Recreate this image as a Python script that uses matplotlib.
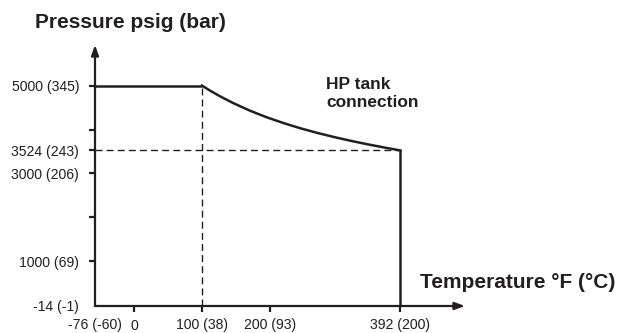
import matplotlib
matplotlib.use("Agg")
import matplotlib.pyplot as plt

plt.rcParams['font.family'] = ['Liberation Sans', 'DejaVu Sans']

# ---- data ----
x_tick_values = [0, 100, 200, 392]
x_tick_labels = ["0", "100 (38)", "200 (93)", "392 (200)"]
x_origin_label = "-76 (-60)"
y_tick_values = [-14, 1000, 2000, 3000, 3524, 4000, 5000]
y_tick_labels = ["-14 (-1)", "1000 (69)", "", "3000 (206)", "3524 (243)", "", "5000 (345)"]

knee_temp = 100
plateau_psig = 5000
curve_temp = [100, 110, 125, 145, 170, 195, 220, 245, 270, 295, 320, 345, 370, 392]
curve_psig = [5000, 4903, 4769, 4609, 4433, 4280, 4147, 4028, 3922, 3827, 3740, 3660, 3586, 3524]
max_temp = 392
rated_psig = 3524

x_min, x_max = -57.4, 487
y_min, y_max = -14, 5923

col = '#231f20'

W, H = 619, 333
fig = plt.figure(figsize=(W / 100, H / 100), dpi=100)
ax = fig.add_axes([95 / W, (H - 306) / H, 370 / W, (306 - 45) / H])
ax.set_xlim(x_min, x_max)
ax.set_ylim(y_min, y_max)
for s in ax.spines.values():
    s.set_visible(False)

# axes with arrows
for end in [(1, 0), (0, 1)]:
    ax.annotate('', xy=end, xytext=(0, 0), xycoords='axes fraction',
                arrowprops=dict(arrowstyle='-|>,head_length=0.6,head_width=0.22', color=col, lw=1.6,
                                shrinkA=0, shrinkB=0))

# dashed guide lines
ax.plot([knee_temp, knee_temp], [y_min, plateau_psig], ls=(0, (5, 3)), lw=1.0, color=col)
ax.plot([x_min, max_temp], [rated_psig, rated_psig], ls=(0, (5, 3)), lw=1.0, color=col)

# solid curve
ax.plot([x_min, knee_temp], [plateau_psig, plateau_psig], lw=1.8, color=col, solid_capstyle='butt')
ax.plot(curve_temp, curve_psig, lw=1.8, color=col, solid_joinstyle='round')
ax.plot([max_temp, max_temp], [rated_psig, y_min], lw=1.8, color=col, solid_capstyle='butt')

# ticks
ax.set_xticks([x_min] + x_tick_values)
ax.set_xticklabels([x_origin_label] + x_tick_labels)
ax.set_yticks(y_tick_values)
ax.set_yticklabels(y_tick_labels)
ax.tick_params(axis='both', colors=col, labelcolor=col, labelsize=10.1, width=1.6, length=4.5)
ax.tick_params(axis='y', pad=7)
ax.tick_params(axis='x', pad=4.5)
ax.xaxis.get_major_ticks()[0].tick1line.set_visible(False)
ax.yaxis.get_major_ticks()[0].tick1line.set_visible(False)

# titles
fig.text(35 / W, 1 - 28 / H, "Pressure psig (bar)", fontsize=15, fontweight='bold',
         color=col, ha='left', va='baseline')
fig.text(420 / W, 1 - 288 / H, "Temperature °F (°C)", fontsize=15, fontweight='bold',
         color=col, ha='left', va='baseline')
fig.text(326 / W, 1 - 89 / H, "HP tank", fontsize=12.5, fontweight='bold',
         color=col, ha='left', va='baseline')
fig.text(326 / W, 1 - 107 / H, "connection", fontsize=12.5, fontweight='bold',
         color=col, ha='left', va='baseline')

fig.savefig('out.png', dpi=100)
